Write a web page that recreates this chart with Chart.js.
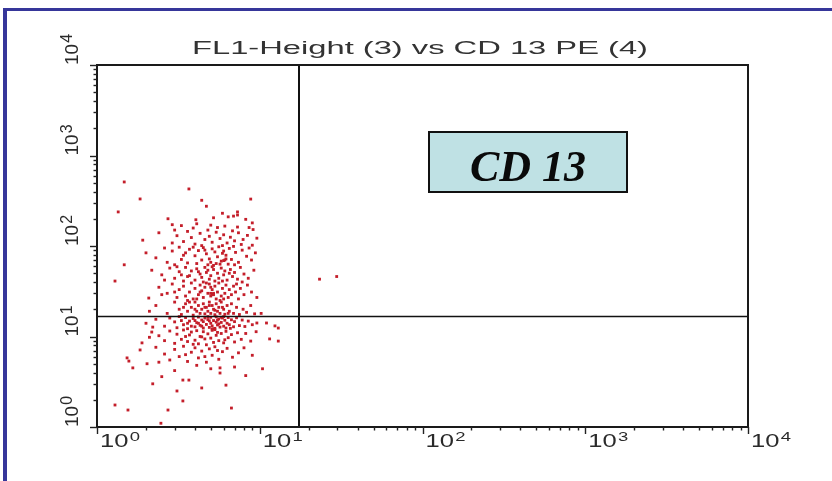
<!DOCTYPE html>
<html><head><meta charset="utf-8">
<script src="https://cdn.jsdelivr.net/npm/chart.js@4.4.0/dist/chart.umd.min.js"></script>
<style>html,body{margin:0;padding:0;background:#fff;overflow:hidden}
#wrap{position:relative;width:832px;height:481px}
canvas{display:block}</style></head><body>
<div id="wrap"><canvas id="c" width="832" height="481"></canvas></div>
<script>
const titleText = "FL1-Height (3) vs CD 13 PE (4)";
const markerLabel = "CD 13";
const decadeTicks = [1, 10, 100, 1000, 10000];
const decadeExponents = ["0", "1", "2", "3", "4"];
const quadrantX = [17.5];   // CD 13 PE gate
const quadrantY = [16.8];   // FL1-Height gate

// [CD 13 PE, FL1-Height] events, upper-left quadrant
const upperLeft = [
[1.47,510],[3.67,427],[1.84,331],[8.8,330],[1.35,238],[4.4,320],[4.7,275],[7.3,238],[7.3,220],[5.9,230],[2.73,200],[4.05,195],[2.9,172],[5.2,205],[6.4,210],[6.9,214],[8.2,197],[9.0,180],[4.1,176],[5.0,170],[3.3,168],[7.3,162],[5.5,160],[6.1,166],[9.1,152],[4.8,150],[8.6,160],[3.9,158],
[1.91,116],[9.6,122],[9.0,102],[2.4,140],[3.1,130],[3.6,145],[4.3,138],[4.9,128],[5.4,142],[6.0,133],[6.6,125],[7.4,140],[7.9,118],[8.4,131],[3.4,112],[4.0,105],[4.6,118],[5.1,110],[5.7,121],[6.3,108],[7.0,114],[7.7,104],[2.9,108],[3.8,124],[5.9,101],[4.4,101],[6.8,147],[3.0,150],
[1.47,62],[2.6,95],[2.9,88],[3.2,97],[3.5,84],[3.7,92],[4.0,78],[4.2,89],[4.5,96],[4.7,82],[4.9,72],[5.1,93],[5.3,86],[5.5,76],[5.6,98],[5.8,68],[6.0,88],[6.2,79],[6.5,94],[6.7,71],[7.1,85],[7.4,66],[7.8,90],[8.3,77],[8.9,70],[9.4,84],[2.3,74],[2.7,66],[3.0,62],[3.3,71],[3.6,65],[3.9,97],[4.1,64],[4.4,70],[4.8,62],[5.0,66],[5.2,61],[5.4,64],[5.7,63],[6.4,63],[7.0,62],[3.4,79],[4.6,90],[5.9,83],[2.0,84],[6.9,99],[8.6,95],[6.1,70],[6.2,72],[6.0,69],
[1.29,41],[2.17,54],[2.5,48],[2.8,57],[3.0,44],[3.2,52],[3.4,41],[3.5,58],[3.7,47],[3.8,53],[4.0,42],[4.1,56],[4.3,49],[4.4,45],[4.6,58],[4.7,51],[4.9,43],[5.0,47],[5.2,55],[5.3,41],[5.5,50],[5.6,44],[5.8,57],[6.0,48],[6.1,53],[6.3,42],[6.6,55],[6.8,46],[7.0,51],[7.3,43],[7.6,58],[8.0,49],[8.5,44],[9.2,54],[2.6,42],[3.1,59],[3.6,46],[4.2,52],[4.5,40],[5.1,59],[5.9,41],[6.5,50],[7.8,40],[4.8,54],[3.3,48],
[2.08,26.6],[2.4,35],[2.7,30],[2.9,38],[3.1,27],[3.2,33],[3.4,36],[3.5,28],[3.7,31],[3.8,39],[3.9,26],[4.0,34],[4.2,29],[4.3,37],[4.4,32],[4.5,27],[4.6,35],[4.8,30],[4.9,38],[5.0,28],[5.1,33],[5.1,29],[5.2,30],[5.3,36],[5.4,26],[5.5,31],[5.6,39],[5.8,28],[5.9,34],[6.1,30],[6.2,37],[6.4,27],[6.5,33],[6.7,29],[6.9,36],[7.1,31],[7.4,26],[7.6,34],[8.0,29],[8.4,37],[8.9,31],[9.6,27],[3.0,31],[3.6,25],[4.1,26],[4.7,39],[5.7,25],[6.0,26],[7.2,38],[2.5,29],[4.3,31],[5.0,35],[5.2,29],[5.0,30],
[2.3,22],[2.7,18],[3.0,24],[3.2,20],[3.3,17.5],[3.5,23],[3.6,19],[3.8,21],[3.9,17.2],[4.0,24],[4.1,19],[4.2,22],[4.3,18],[4.4,20],[4.5,23],[4.6,17.8],[4.7,21],[4.8,19],[4.9,24],[5.0,18],[5.1,22],[5.2,20],[5.3,17.4],[5.4,23],[5.5,19],[5.6,21],[5.7,18],[5.8,24],[6.0,20],[6.1,17.6],[6.3,22],[6.5,19],[6.7,23],[6.9,18],[7.2,21],[7.5,17.5],[7.9,20],[8.3,18.5],[8.8,22],[9.3,17.8],[10.2,18],[2.1,19],[3.4,21],[4.0,20],[4.6,21],[5.3,19.5],[5.9,21],[6.4,18],[3.7,24],[4.9,22]
];

// lower-left quadrant
const lowerLeft = [
[2.0,14],[2.3,15.5],[2.6,13],[2.8,16],[3.0,14.5],[3.1,12.5],[3.3,15],[3.4,13.5],[3.5,16.2],[3.6,12.2],[3.7,14.8],[3.8,13],[3.9,15.8],[4.0,12.8],[4.1,14.2],[4.2,16.4],[4.3,13.3],[4.4,15.2],[4.5,12.4],[4.5,14.6],[4.6,16],[4.7,13.6],[4.8,15.4],[4.9,12.6],[5.0,14],[5.0,16.3],[5.1,13.1],[5.2,15],[5.3,12.3],[5.4,14.4],[5.4,16.5],[5.5,13.4],[5.6,15.6],[5.7,12.7],[5.8,14.3],[5.9,16],[6.0,13],[6.1,15.1],[6.2,12.4],[6.3,14],[6.4,16.2],[6.5,13.5],[6.7,15.3],[6.9,12.8],[7.0,14.6],[7.2,16.1],[7.5,13.2],[7.8,15.2],[8.1,12.9],[8.5,14.8],[9.0,13.5],[9.6,14.1],[11.0,14.1],[12.4,13.1],[13.0,12.4],[2.2,12.7],[3.2,16.6],[4.0,15],[4.4,13],[4.8,16.6],[5.2,12.1],[5.6,13.8],[6.0,16.6],[6.6,12.3],[4.2,14],[4.9,14.9],[5.5,15.2],[3.6,14],[5.1,12.1],[5.8,16.3],
[2.17,11.2],[1.89,8.5],[2.4,10.2],[2.6,9],[2.8,11.5],[3.0,8.4],[3.1,10.6],[3.3,9.3],[3.4,11.8],[3.6,8.8],[3.7,10.4],[3.8,11.2],[4.0,9.1],[4.1,11.6],[4.2,8.3],[4.3,10],[4.5,11.3],[4.6,9.4],[4.7,8.1],[4.8,10.7],[5.0,9.6],[5.1,11.7],[5.2,8.6],[5.4,10.3],[5.5,11.1],[5.6,9],[5.8,10.8],[6.0,8.5],[6.2,11.4],[6.4,9.7],[6.7,10.5],[7.0,8.7],[7.3,11],[7.7,9.3],[8.2,10.8],[8.8,8.9],[9.5,11.3],[11.5,9.4],[13.0,8.9],[2.1,9.8],[3.5,10],[4.4,9.9],[5.3,11.9],[6.1,9.2],[3.9,8.2],
[1.84,7.1],[2.03,5.0],[1.53,5.8],[1.57,5.35],[2.3,7.6],[2.6,6.4],[2.8,5.5],[3.0,7.2],[3.2,6.0],[3.4,7.8],[3.6,5.3],[3.8,6.7],[4.0,7.5],[4.2,5.8],[4.4,6.9],[4.7,5.2],[4.9,7.3],[5.1,6.2],[5.3,7.7],[5.6,5.6],[5.9,6.8],[6.3,7.4],[6.8,5.9],[7.4,6.6],[8.0,7.5],[9.0,6.2],[2.4,5.2],[3.5,6.3],[4.6,6.0],[5.5,7.0],
[1.66,4.5],[2.5,3.6],[3.37,3.3],[3.67,3.3],[3.1,2.5],[6.2,2.9],[3.37,1.94],[1.29,1.75],[1.55,1.54],[2.73,1.54],[6.7,1.62],[2.47,1.1],[10.4,4.4],[5.7,4.5],[5.0,4.4],[7.0,4.6],[5.7,3.95],[4.1,4.8],[3.0,4.2],[8.2,3.7],[4.4,2.7],[2.2,3.0]
];

// upper-right quadrant
const upperRight = [[29.7,46],[23.3,43]];

const FONT_SANS = '"Liberation Sans", Arial, sans-serif';
const toPts = arr => arr.map(p => ({x: p[0], y: p[1]}));

function stretchedText(ctx, x, y, text, size, sx) {
  ctx.save();
  ctx.translate(x, y);
  ctx.scale(sx, 1);
  ctx.font = size + 'px ' + FONT_SANS;
  ctx.textAlign = 'left';
  ctx.textBaseline = 'alphabetic';
  ctx.fillText(text, 0, 0);
  ctx.restore();
}
function powerLabel(ctx, base, sup, size, sx, supRatio) {
  ctx.save();
  ctx.scale(sx, 1);
  ctx.font = size + 'px ' + FONT_SANS;
  ctx.textAlign = 'left';
  ctx.textBaseline = 'alphabetic';
  ctx.fillText(base, 0, 0);
  const w = ctx.measureText(base).width;
  ctx.font = Math.round(size * supRatio) + 'px ' + FONT_SANS;
  ctx.fillText(sup, w + 1, -size * 0.34);
  ctx.restore();
}

const cytoPlugin = {
  id: 'cyto',
  beforeDraw(chart) {
    const ctx = chart.ctx;
    ctx.save();
    ctx.fillStyle = '#ffffff';
    ctx.fillRect(0, 0, chart.width, chart.height);
    ctx.restore();
  },
  afterDatasetsDraw(chart) {
    const ctx = chart.ctx, xs = chart.scales.x, ys = chart.scales.y;
    const a = chart.chartArea;
    ctx.save();
    // quadrant gates
    ctx.strokeStyle = '#111';
    ctx.lineWidth = 2;
    const gx = Math.round(xs.getPixelForValue(quadrantX[0]));
    ctx.beginPath(); ctx.moveTo(gx, a.top); ctx.lineTo(gx, a.bottom); ctx.stroke();
    const gy = Math.round(ys.getPixelForValue(quadrantY[0])) + 0.5;
    ctx.lineWidth = 1.6;
    ctx.beginPath(); ctx.moveTo(a.left, gy); ctx.lineTo(a.right, gy); ctx.stroke();

    // plot frame
    ctx.lineWidth = 2;
    ctx.strokeStyle = '#1a1a1a';
    ctx.strokeRect(a.left, a.top, a.right - a.left, a.bottom - a.top);

    // log ticks
    ctx.lineWidth = 1.4;
    ctx.strokeStyle = '#222';
    for (let d = 0; d < 4; d++) {
      for (let m = 1; m <= 9; m++) {
        const v = m * Math.pow(10, d);
        const len = m === 1 ? 7 : 3.5;
        const px = Math.round(xs.getPixelForValue(v)) + 0.5;
        ctx.beginPath(); ctx.moveTo(px, a.bottom); ctx.lineTo(px, a.bottom + len); ctx.stroke();
        const py = Math.round(ys.getPixelForValue(v)) + 0.5;
        ctx.beginPath(); ctx.moveTo(a.left, py); ctx.lineTo(a.left - len, py); ctx.stroke();
      }
    }
    const pxEnd = Math.round(xs.getPixelForValue(decadeTicks[4])) + 0.5;
    ctx.beginPath(); ctx.moveTo(pxEnd, a.bottom); ctx.lineTo(pxEnd, a.bottom + 7); ctx.stroke();
    const pyEnd = Math.round(ys.getPixelForValue(decadeTicks[4])) + 0.5;
    ctx.beginPath(); ctx.moveTo(a.left, pyEnd); ctx.lineTo(a.left - 7, pyEnd); ctx.stroke();

    // tick labels
    ctx.fillStyle = '#2a2a2a';
    decadeTicks.forEach((v, i) => {
      const px = xs.getPixelForValue(v);
      ctx.save();
      ctx.translate(px + 3, a.bottom + 20);
      powerLabel(ctx, '10', decadeExponents[i], 18, 1.42, 0.7);
      ctx.restore();
      const py = ys.getPixelForValue(v);
      ctx.save();
      ctx.translate(a.left - 19, py);
      ctx.rotate(-Math.PI / 2);
      powerLabel(ctx, '10', decadeExponents[i], 19, 1.0, 0.85);
      ctx.restore();
    });

    // title
    ctx.save();
    ctx.fillStyle = '#333';
    ctx.font = '18px ' + FONT_SANS;
    const tw = ctx.measureText(titleText).width;
    const target = 456;
    stretchedText(ctx, 420 - target / 2, 54, titleText, 18, target / tw);
    ctx.restore();

    // CD 13 label box
    ctx.fillStyle = '#bfe1e4';
    ctx.fillRect(429, 132, 198, 60);
    ctx.strokeStyle = '#111';
    ctx.lineWidth = 2;
    ctx.strokeRect(429, 132, 198, 60);
    ctx.fillStyle = '#0a0a0a';
    ctx.font = 'italic bold 44px "Liberation Serif", "Times New Roman", serif';
    ctx.textAlign = 'center';
    ctx.textBaseline = 'alphabetic';
    ctx.fillText(markerLabel, 528, 181);

    // outer slide frame
    ctx.fillStyle = '#36369a';
    ctx.fillRect(3, 8, 4, chart.height - 8);
    ctx.fillRect(3, 8, chart.width - 3, 3);
    ctx.restore();
  }
};

const dotStyle = {
  pointStyle: 'rect',
  pointRadius: 2,
  pointBorderWidth: 0,
  backgroundColor: '#c41e2a',
  borderColor: '#c41e2a',
  showLine: false
};

new Chart(document.getElementById('c'), {
  type: 'scatter',
  data: {
    datasets: [
      Object.assign({label: 'upper-left', data: toPts(upperLeft)}, dotStyle),
      Object.assign({label: 'lower-left', data: toPts(lowerLeft)}, dotStyle),
      Object.assign({label: 'upper-right', data: toPts(upperRight)}, dotStyle)
    ]
  },
  options: {
    responsive: false,
    animation: false,
    layout: {padding: {left: 97, right: 84, top: 65, bottom: 54}},
    plugins: {legend: {display: false}, tooltip: {enabled: false}, title: {display: false}},
    scales: {
      x: {type: 'logarithmic', min: 1, max: 10000, display: false,
          ticks: {display: false}, grid: {display: false, drawTicks: false}, border: {display: false}},
      y: {type: 'logarithmic', min: 1, max: 10000, display: false,
          ticks: {display: false}, grid: {display: false, drawTicks: false}, border: {display: false}}
    }
  },
  plugins: [cytoPlugin]
});
</script>
</body></html>
